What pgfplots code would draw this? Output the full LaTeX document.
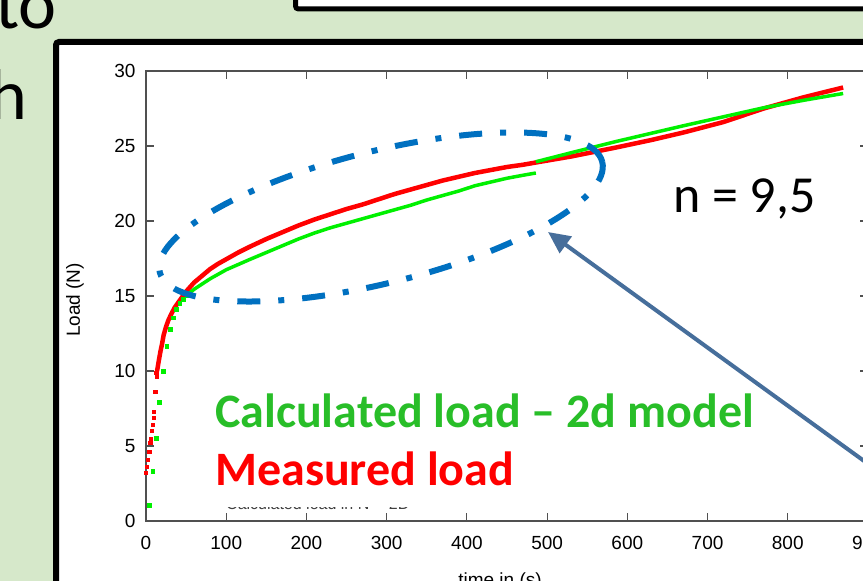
\documentclass[border=0pt]{standalone}
\usepackage{fontspec}
\setmainfont{Carlito}
\newfontfamily\arialf{Liberation Sans}
\usepackage{pgfplots}
\pgfplotsset{compat=1.18}
\usetikzlibrary{arrows.meta}
\definecolor{bggreen}{RGB}{214,232,202}
\definecolor{ptred}{RGB}{255,0,0}
\definecolor{ptgreen}{RGB}{0,240,0}
\definecolor{txtgreen}{RGB}{40,190,40}
\definecolor{ellblue}{RGB}{0,112,192}
\definecolor{arrowblue}{RGB}{70,110,155}
\definecolor{axgray}{RGB}{80,80,80}
\begin{document}
\begin{tikzpicture}[x=1pt,y=1pt]
\useasboundingbox (0,0) rectangle (863,581);
\clip (0,0) rectangle (863,581);
\fill[bggreen] (0,0) rectangle (863,581);
% top box
\draw[line width=5pt, fill=white, rounded corners=3pt] (295.5,572) rectangle (920,640);
% main frame
\draw[line width=6pt, fill=white, rounded corners=3pt] (56,539) rectangle (920,-60);
% cut-off slide text
\node[anchor=base east, inner sep=0, font=\fontsize{72}{72}\selectfont] at (57,552) {to};
\node[anchor=base east, inner sep=0, font=\fontsize{72}{72}\selectfont] at (28,461) {h};
% hidden gnuplot key text
\node[anchor=base west, inner sep=0, text=black!75, font=\arialf\fontsize{16}{16}\selectfont] at (226,71) {Calculated load in N -- 2D};
\fill[white] (215,74) rectangle (530,140);
\begin{axis}[
  at={(146pt,60pt)}, anchor=south west,
  scale only axis, width=722pt, height=450pt,
  xmin=0, xmax=900, ymin=0, ymax=30,
  xtick={0,100,...,900}, ytick={0,5,...,30},
  axis line style={draw=axgray, line width=1.6pt},
  tick style={draw=axgray, line width=1.2pt},
  major tick length=8pt, tick align=inside,
  /pgf/number format/assume math mode=true,
  /pgf/number format/1000 sep={},
  ticklabel style={font=\arialf\fontsize{19}{19}\selectfont, text=black},
  xticklabel style={yshift=-12pt},
  yticklabel style={xshift=-7pt},
  clip=false,
]
% measured load (red)
\addplot[only marks, mark=square*, mark size=1.6pt, color=ptred] coordinates {
(0,3.2) (1.3,3.6) (2.6,4.1) (3.9,4.6) (5.2,5.2) (6.2,5.5) (7.5,6.0) (8.5,6.4) (9.4,6.9) (10.0,7.3) (11.5,8.6) (13.0,9.6) (13.8,10.0) (12.8,9.9)
};
\addplot[no marks, color=ptred, line width=4.5pt] coordinates {
(13.8,10.0) (16,10.7) (18,11.3) (20,11.8) (22,12.4) (25,12.95) (28,13.4) (32,13.85) (36,14.25) (42,14.7) (50,15.3) (60,15.9) (70,16.35) (80,16.8) (90,17.15) (100,17.45) (115,17.9) (130,18.3) (150,18.8) (170,19.25) (190,19.7) (210,20.1) (230,20.45) (250,20.8) (270,21.1) (290,21.45) (310,21.8) (330,22.1) (350,22.4) (370,22.7) (390,22.95) (410,23.2) (430,23.4) (450,23.6) (470,23.75) (486,23.9) (530,24.3) (586,24.9) (630,25.4) (670,25.9) (720,26.6) (770,27.5) (820,28.25) (869,28.9)
};
% calculated load (green)
\addplot[only marks, mark=square*, mark size=1.9pt, color=ptgreen] coordinates {
(4.1,1.07) (8.3,3.3) (12.5,5.5) (16.6,7.9) (21.6,10.0) (25.8,11.67) (30,12.8) (34,13.55) (38,14.1) (42,14.5) (46.5,14.8) (51.5,15.07)
};
\addplot[no marks, color=ptgreen, line width=3.5pt] coordinates {
(51.5,15.07) (60,15.45) (70,15.8) (80,16.15) (90,16.45) (100,16.75) (115,17.1) (130,17.45) (150,17.9) (170,18.35) (190,18.8) (210,19.2) (230,19.55) (250,19.85) (270,20.15) (290,20.45) (310,20.75) (330,21.05) (350,21.4) (370,21.7) (390,22.0) (410,22.35) (430,22.6) (450,22.85) (470,23.05) (486,23.2)
};
\addplot[no marks, color=ptgreen, line width=3.5pt] coordinates {
(486,23.95) (530,24.55) (586,25.3) (630,25.85) (670,26.35) (720,26.95) (770,27.55) (820,28.05) (869,28.5)
};
\end{axis}
% axis labels
\node[rotate=90, inner sep=0, font=\arialf\fontsize{19}{19}\selectfont] at (75,281) {Load (N)};
\node[anchor=north, inner sep=0, font=\arialf\fontsize{19}{19}\selectfont] at (500,8) {time in (s)};
% overlay annotations
\node[anchor=base west, inner sep=0, text=txtgreen, font=\bfseries\fontsize{48}{48}\selectfont] at (215,153) {Calculated load – 2d model};
\node[anchor=base west, inner sep=0, text=ptred, font=\bfseries\fontsize{48}{48}\selectfont] at (215,95) {Measured load};
\node[anchor=base west, inner sep=0, font=\fontsize{52}{52}\selectfont] at (673,368) {n = 9,5};
\draw[ellblue, line width=6pt, dash pattern=on 23pt off 18pt on 6pt off 18pt, rotate around={14:(381,364)}] (381,364) ellipse [x radius=228, y radius=66];
\draw[arrowblue, line width=4pt, -{Triangle[length=22pt,width=20pt]}] (900,94) -- (548,349);
\end{tikzpicture}
\end{document}
